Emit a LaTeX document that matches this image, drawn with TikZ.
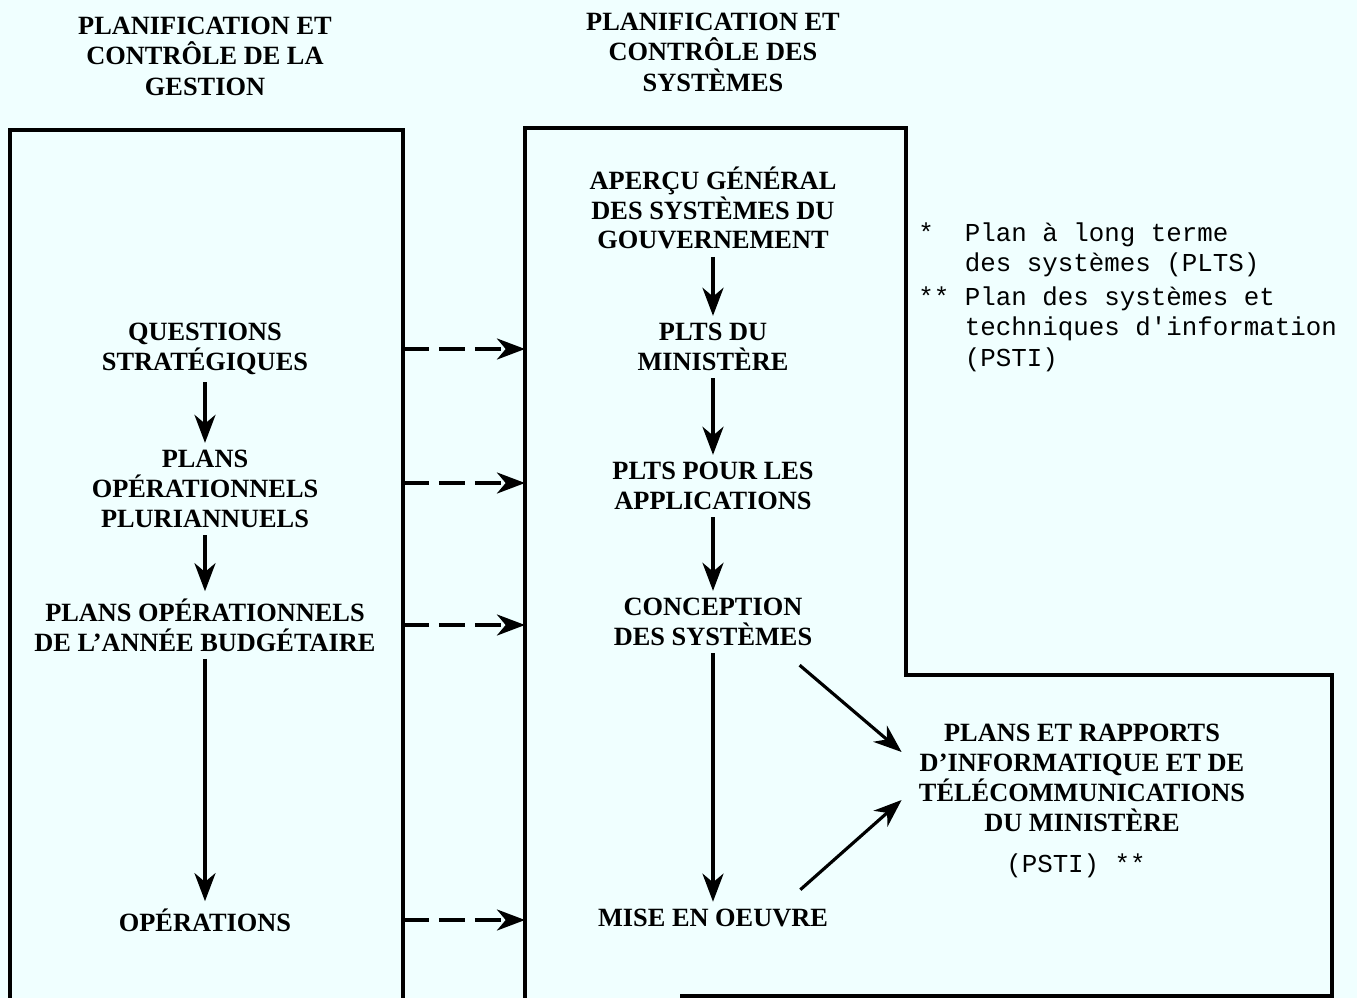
\documentclass[tikz,border=0pt]{standalone}
\usepackage{fontspec}
\setmainfont{Liberation Serif}
\setmonofont{Liberation Mono}
\usetikzlibrary{arrows.meta}
\definecolor{paper}{RGB}{240,255,255}

\begin{document}
\begin{tikzpicture}[x=0.02cm, y=-0.02cm,
  heading/.style={font=\fontsize{15}{17.4}\selectfont\bfseries, align=center, inner sep=4pt},
  stage/.style={font=\fontsize{15}{17}\selectfont\bfseries, align=center, inner sep=4pt},
  remark/.style={font=\fontsize{14.7}{17.6}\selectfont\ttfamily, align=left, inner sep=0pt},
  frame/.style={line width=1.9pt},
  flow/.style={line width=1.8pt, -{Stealth[length=16pt, width=12pt, inset=5pt]}},
  feed/.style={flow, dash pattern=on 15pt off 5.5pt}]
 \fill[paper] (0,0) rectangle (1357,998);
 \useasboundingbox (0,0) rectangle (1357,998);
 \node[heading] (H1) at (205,56) {PLANIFICATION ET\\CONTRÔLE DE LA\\GESTION};
 \node[heading] (H2) at (713,52) {PLANIFICATION ET\\CONTRÔLE DES\\SYSTÈMES};
 \node[frame, draw, anchor=north west, inner sep=0pt, outer sep=0pt,
   minimum width=7.86cm, minimum height=17.8cm] (mgmt) at (10,130) {};
 \draw[frame] (525,1010) -- (525,128) -- (906,128) -- (906,675) -- (1332,675) -- (1332,996) -- (680,996);
 \coordinate (sys) at (525,0);
 \node[stage] (QS)  at (205,349) {QUESTIONS\\STRATÉGIQUES};
 \node[stage] (POP) at (205,489) {PLANS\\OPÉRATIONNELS\\PLURIANNUELS};
 \node[stage] (PAB) at (205,625) {PLANS OPÉRATIONNELS\\DE L'ANNÉE BUDGÉTAIRE};
 \node[stage] (OPS) at (205,920) {OPÉRATIONS};
 \node[stage] (AGS) at (713,208) {APERÇU GÉNÉRAL\\DES SYSTÈMES DU\\GOUVERNEMENT};
 \node[stage] (PLM) at (713,347) {PLTS DU\\MINISTÈRE};
 \node[stage] (PLA) at (713,486) {PLTS POUR LES\\APPLICATIONS};
 \node[stage] (CS)  at (713,622) {CONCEPTION\\DES SYSTÈMES};
 \node[stage] (MEO) at (713,918) {MISE EN OEUVRE};
 \node[stage] (REP) at (1082,778) {PLANS ET RAPPORTS\\D'INFORMATIQUE ET DE\\TÉLÉCOMMUNICATIONS\\DU MINISTÈRE};
 \node[remark] (PSTI) at (1076,866) {(PSTI) **};
 \node[remark, anchor=north west] (N1) at (918,222) {*\phantom{**}Plan à long terme\\\phantom{***}des systèmes (PLTS)};
 \node[remark, anchor=north west] (N2) at (918,286) {**\phantom{*}Plan des systèmes et\\\phantom{***}techniques d'information\\\phantom{***}(PSTI)};
 \draw[flow] (QS) to (POP);
 \draw[flow] (POP) to (PAB);
 \draw[flow] (PAB) to (OPS);
 \draw[flow] (AGS) to (PLM);
 \draw[flow] (PLM) to (PLA);
 \draw[flow] (PLA) to (CS);
 \draw[flow] (CS) to (MEO);
 \draw[flow] ([shift={(-20,12)}]CS.south east) to ([shift={(-10,-26)}]REP.west);
 \draw[flow] ([shift={(-35,-12)}]MEO.north east) to ([shift={(-10,22)}]REP.west);
 \draw[feed] (mgmt.east |- QS) to (sys |- QS);
 \draw[feed] ([yshift=0.12cm]mgmt.east |- POP) to ([yshift=0.12cm]sys |- POP);
 \draw[feed] (mgmt.east |- PAB) to (sys |- PAB);
 \draw[feed] (mgmt.east |- OPS) to (sys |- OPS);
\end{tikzpicture}
\end{document}
